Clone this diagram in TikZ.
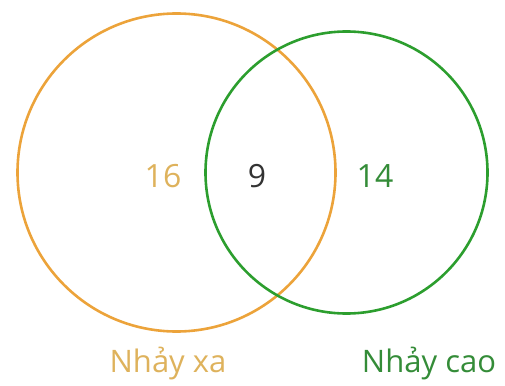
\documentclass[tikz,border=0pt]{standalone}
\usepackage{fontspec}
\setmainfont{Open Sans}
\definecolor{vnorange}{RGB}{236,163,58}
\definecolor{vnorangetext}{RGB}{222,178,92}
\definecolor{vngreen}{RGB}{44,158,46}
\definecolor{vngreentext}{RGB}{52,140,56}
\usetikzlibrary{positioning}

\begin{document}
\begin{tikzpicture}[x=1pt,y=-1pt]
  \useasboundingbox (0,0) rectangle (505,385);
  % Long jump set
  \node[draw=vnorange, line width=2.6pt, circle, minimum size=318pt, inner sep=0pt] (xa) at (176.5,172.5) {};
  % High jump set
  \node[draw=vngreen, line width=2.6pt, circle, minimum size=282pt, inner sep=0pt] (cao) at (346.5,172.5) {};
  % Counts
  \node[font=\fontsize{32}{36}\selectfont, text=vnorangetext] (onlyxa) at (163,176) {16};
  \node[font=\fontsize{32}{36}\selectfont, text=black!80] (both) at (257,176) {9};
  \node[font=\fontsize{32}{36}\selectfont, text=vngreentext] (onlycao) at (375,176) {14};
  % Set labels
  \node[font=\fontsize{31}{36}\selectfont, text=vnorangetext] (labelxa) at (168,364) {Nhảy xa};
  \node[font=\fontsize{31}{36}\selectfont, text=vngreentext] (labelcao) at (429,364) {Nhảy cao};
\end{tikzpicture}
\end{document}
